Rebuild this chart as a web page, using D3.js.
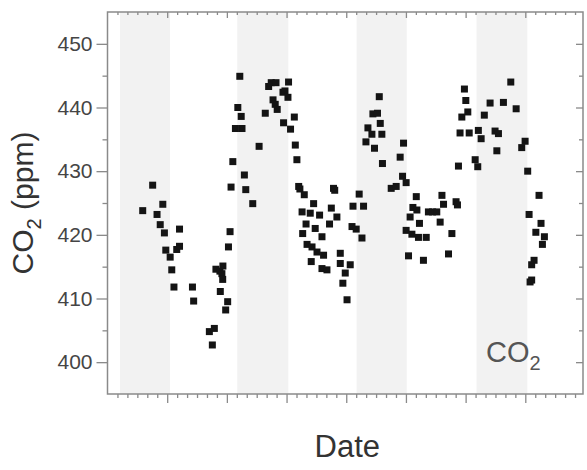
<!DOCTYPE html>
<html>
<head>
<meta charset="utf-8">
<script src="https://cdn.jsdelivr.net/npm/d3@7"></script>
<style>
  body { margin: 0; background: #fff; }
  svg { display: block; font-family: "Liberation Sans", Arial, sans-serif; }
</style>
</head>
<body>
<svg id="chart" width="587" height="470"></svg>
<script>
// day offsets of each sample (x), CO2 in ppm (y)
const days = [
  17.7, 22.7, 24.9, 26.5, 27.8, 28.6, 29.3, 31.5, 32.3, 33.4,
  34.8, 36.2, 36.2, 42.7, 43.3, 51.2, 52.7, 53.7, 54.5, 56.5,
  58.0, 57.5, 57.9, 56.7, 60.4, 59.4, 60.8, 61.6, 62.1, 63.0,
  64.3, 65.5, 66.5, 67.2, 67.6, 68.8, 69.5, 73.0, 76.2, 79.3,
  81.0, 82.3, 84.7, 83.2, 84.3, 85.3, 88.2, 89.2, 90.7, 91.0,
  88.5, 92.0, 93.9, 94.4, 95.2,
  96.1, 96.7, 98.9, 103.6, 97.8, 101.9, 106.6, 99.8, 104.4, 98.1,
  107.8, 100.3, 102.8, 105.3, 108.6, 102.4, 107.8, 110.3, 111.6, 112.5,
  113.6, 114.2, 115.3, 117.0, 117.0, 118.3, 119.5, 120.4, 122.0, 122.9,
  123.4, 125.0, 126.5, 127.9, 128.7,
  129.9, 130.9, 132.9, 133.4, 134.2, 135.7, 136.6, 137.1, 137.9, 138.2,
  142.6, 145.1, 147.1, 148.3, 148.8, 150.1,
  150.1, 151.3, 152.1, 153.0, 153.5, 155.5, 155.2, 156.3, 156.8, 158.8,
  160.2, 161.3, 163.4, 165.5, 167.2, 168.1, 168.9, 171.4, 173.1, 175.2,
  175.9,
  176.4, 179.4, 180.1, 181.1, 178.1, 177.2, 181.8, 184.8, 186.1,
  186.4, 187.8, 189.4, 192.3, 194.8, 196.5, 195.7, 199.0, 202.7, 205.4,
  208.2, 209.9,
  211.2, 211.9, 212.4, 213.2, 213.2, 214.4, 215.3, 216.9, 217.9, 218.6,
  219.6
];
const co2 = [
  423.8, 427.8, 423.2, 421.6, 424.8, 420.3, 417.6, 416.5, 414.5, 411.8,
  417.7, 418.2, 420.9, 411.8, 409.6, 404.8, 402.7, 405.3, 414.6, 414.3,
  415.1, 413.9, 413.0, 411.1, 409.5, 408.2, 418.1, 420.5, 427.5, 431.5,
  436.7, 440.0, 444.9, 438.6, 436.7, 429.4, 427.1, 424.9, 433.9, 439.1,
  443.3, 443.9, 443.9, 441.2, 440.5, 439.7, 442.4, 442.6, 441.6, 444.0,
  437.6, 436.6, 438.5, 434.1, 431.8,
  427.6, 427.2, 426.3, 424.9, 423.6, 423.4, 423.1, 421.7, 421.0, 420.2,
  419.7, 418.5, 418.1, 417.3, 416.8, 415.8, 414.7, 414.5, 421.7, 424.2,
  427.3, 427.0, 422.8, 417.1, 415.5, 412.4, 414.0, 409.8, 415.3, 421.3,
  424.5, 420.9, 426.4, 419.5, 424.5,
  434.6, 436.8, 435.8, 439.0, 433.6, 439.1, 441.7, 437.5, 435.8, 431.2,
  427.3, 427.6, 432.2, 429.2, 434.4, 428.2,
  420.7, 416.7, 422.8, 420.1, 424.3, 423.9, 426.0, 419.6, 421.8, 416.0,
  419.6, 423.6, 423.6, 423.6, 422.0, 426.2, 424.8, 417.0, 420.2, 425.2,
  424.7,
  430.8, 442.9, 441.1, 439.3, 438.5, 436.0, 436.0, 431.8, 430.7,
  436.4, 435.1, 438.8, 440.7, 436.3, 435.9, 433.2, 440.8, 444.0, 439.8,
  433.7, 434.7,
  430.0, 423.2, 412.6, 412.9, 415.3, 416.0, 420.4, 426.2, 421.8, 418.5,
  419.7
];
// shaded periods (start day, end day)
const bandStart = [6.3, 65.2, 125.2, 185.5];
const bandEnd = [31.4, 90.9, 150.4, 211.0];
const yTicks = [400, 410, 420, 430, 440, 450];

(function () {
  'use strict';
  const svg = d3.select('#chart');
  const left = 107.5, right = 583, top = 12, bottom = 394;
  const axisColor = '#8a8a8a';

  const x = d3.scaleLinear().domain([0, 239]).range([left, right]);
  const y = d3.scaleLinear().domain([395, 455]).range([bottom, top]);

  // shaded bands
  svg.append('g').selectAll('rect')
    .data(d3.zip(bandStart, bandEnd))
    .enter()
    .append('rect')
    .attr('x', (d) => x(d[0]))
    .attr('width', (d) => x(d[1]) - x(d[0]))
    .attr('y', top)
    .attr('height', bottom - top)
    .attr('fill', '#f2f2f2');

  // points
  const sz = 7;
  svg.append('g').selectAll('rect')
    .data(d3.zip(days, co2))
    .enter()
    .append('rect')
    .attr('x', (d) => x(d[0]) - sz / 2)
    .attr('y', (d) => y(d[1]) - sz / 2)
    .attr('width', sz)
    .attr('height', sz)
    .attr('fill', '#141414');

  const xMajor = d3.range(30, 239, 30);
  const xMinor = d3.range(5, 239, 5).filter((d) => d % 30 !== 0);
  const yMinor = d3.range(405, 455, 10);

  function styleAxis(g) {
    g.select('.domain').remove();
    g.selectAll('line').attr('stroke', axisColor).attr('stroke-width', 1.3);
  }

  // left axis, ticks out
  svg.append('g')
    .attr('transform', 'translate(' + left + ',0)')
    .call(d3.axisLeft(y).tickValues(yTicks).tickSize(11).tickPadding(4))
    .call(styleAxis)
    .call((g) => g.selectAll('text')
      .attr('fill', '#454545')
      .style('font-size', '21px'));
  svg.append('g')
    .attr('transform', 'translate(' + left + ',0)')
    .call(d3.axisLeft(y).tickValues(yMinor).tickSize(5).tickFormat(''))
    .call(styleAxis);

  // right axis, ticks in
  svg.append('g')
    .attr('transform', 'translate(' + right + ',0)')
    .call(d3.axisRight(y).tickValues(yTicks).tickSize(-7).tickFormat(''))
    .call(styleAxis);
  svg.append('g')
    .attr('transform', 'translate(' + right + ',0)')
    .call(d3.axisRight(y).tickValues(yMinor).tickSize(-4).tickFormat(''))
    .call(styleAxis);

  // bottom axis, ticks out
  svg.append('g')
    .attr('transform', 'translate(0,' + bottom + ')')
    .call(d3.axisBottom(x).tickValues(xMajor).tickSize(9).tickFormat(''))
    .call(styleAxis);
  svg.append('g')
    .attr('transform', 'translate(0,' + bottom + ')')
    .call(d3.axisBottom(x).tickValues(xMinor).tickSize(4).tickFormat(''))
    .call(styleAxis);

  // top axis, ticks in
  svg.append('g')
    .attr('transform', 'translate(0,' + top + ')')
    .call(d3.axisTop(x).tickValues(xMajor).tickSize(-6).tickFormat(''))
    .call(styleAxis);
  svg.append('g')
    .attr('transform', 'translate(0,' + top + ')')
    .call(d3.axisTop(x).tickValues(xMinor).tickSize(-3).tickFormat(''))
    .call(styleAxis);

  // frame
  svg.append('rect')
    .attr('x', left)
    .attr('y', top)
    .attr('width', right - left)
    .attr('height', bottom - top)
    .attr('fill', 'none')
    .attr('stroke', axisColor)
    .attr('stroke-width', 1.5);

  // y title
  const yt = svg.append('text')
    .attr('transform', 'translate(33,' + ((top + bottom) / 2) + ') rotate(-90)')
    .attr('text-anchor', 'middle')
    .attr('fill', '#333')
    .style('font-size', '30px');
  yt.append('tspan').text('CO');
  yt.append('tspan').attr('dy', 8).style('font-size', '20px').text('2');
  yt.append('tspan').attr('dy', -8).text(' (ppm)');

  // x title
  svg.append('text')
    .attr('x', (left + right) / 2 + 2)
    .attr('y', 456.5)
    .attr('text-anchor', 'middle')
    .attr('fill', '#333')
    .style('font-size', '31px')
    .text('Date');

  // series label
  const lab = svg.append('text')
    .attr('x', 486)
    .attr('y', 361.5)
    .attr('fill', '#555')
    .style('font-size', '29px');
  lab.append('tspan').text('CO');
  lab.append('tspan').attr('dy', 8).style('font-size', '20px').text('2');
}());
</script>
</body>
</html>
